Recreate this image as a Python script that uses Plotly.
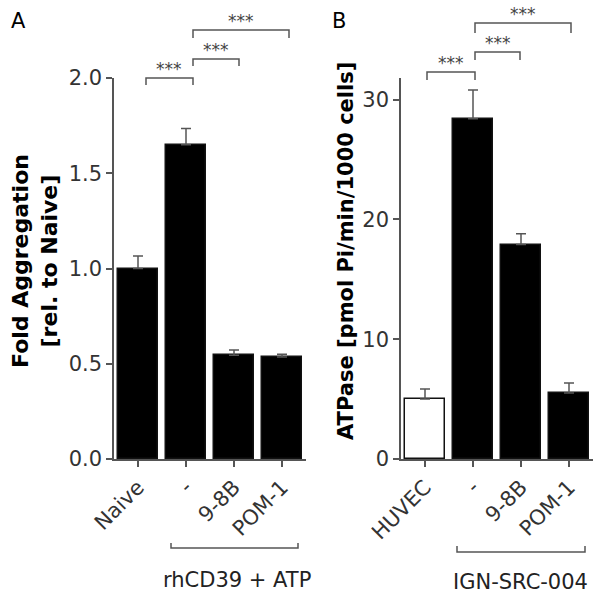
import plotly.graph_objects as go

W, H = 600, 595

# ---- data ----
a_cats = ["Naive", "-", "9-8B", "POM-1"]
a_vals = [1.0, 1.65, 0.545, 0.535]
a_errs = [0.065, 0.085, 0.027, 0.015]
a_colors = ["black", "black", "black", "black"]
a_ticks = [0.0, 0.5, 1.0, 1.5, 2.0]

b_cats = ["HUVEC", "-", "9-8B", "POM-1"]
b_vals = [5.0, 28.4, 17.9, 5.5]
b_errs = [0.85, 2.4, 0.9, 0.85]
b_colors = ["white", "black", "black", "black"]
b_ticks = [0, 10, 20, 30]

a_title = "<b>Fold Aggregation<br>[rel. to Naive]</b>"
b_title = "<b>ATPase [pmol Pi/min/1000 cells]</b>"
sig_label = "***"
group_a = "rhCD39 + ATP"
group_b = "IGN-SRC-004"

FONT = "DejaVu Sans"
GRAY = "#555555"


def px(x):
    return x / W


def py(y):
    return 1 - y / H


fig = go.Figure()

fig.add_trace(go.Bar(
    x=list(range(len(a_cats))), y=a_vals, xaxis="x", yaxis="y",
    marker=dict(color=a_colors, line=dict(color="#111111", width=1.5)),
    width=0.83,
    error_y=dict(type="data", array=a_errs, arrayminus=[0] * len(a_errs),
                 symmetric=False, color=GRAY, thickness=1.5, width=5),
    showlegend=False, hoverinfo="skip",
))
fig.add_trace(go.Bar(
    x=list(range(len(b_cats))), y=b_vals, xaxis="x2", yaxis="y2",
    marker=dict(color=b_colors, line=dict(color="#111111", width=1.5)),
    width=0.83,
    error_y=dict(type="data", array=b_errs, arrayminus=[0] * len(b_errs),
                 symmetric=False, color=GRAY, thickness=1.5, width=5),
    showlegend=False, hoverinfo="skip",
))

ydom = [py(459), py(78)]
common_x = dict(range=[-0.5, 3.5], showline=True, linecolor=GRAY, linewidth=1.5,
                ticks="outside", ticklen=6, tickcolor=GRAY, tickwidth=1.5,
                tickangle=-45, tickfont=dict(family=FONT, size=21, color="#333333"),
                showgrid=False, zeroline=False, automargin=False, tickmode="array")
common_y = dict(showline=True, linecolor=GRAY, linewidth=1.5,
                ticks="outside", ticklen=6, tickcolor=GRAY, tickwidth=1.5,
                tickfont=dict(family=FONT, size=21, color="#333333"),
                showgrid=False, zeroline=False, automargin=False, domain=ydom)

fig.update_layout(
    width=W, height=H, autosize=False,
    margin=dict(l=0, r=0, t=0, b=0),
    plot_bgcolor="white", paper_bgcolor="white",
    bargap=0,
    xaxis=dict(domain=[px(114), px(306)], tickvals=list(range(len(a_cats))),
               ticktext=a_cats, anchor="y", **common_x),
    yaxis=dict(range=[0, 2.0], tickvals=a_ticks, tickformat=".1f", anchor="x",
               **common_y),
    xaxis2=dict(domain=[px(401), px(593)], tickvals=list(range(len(b_cats))),
                ticktext=b_cats, anchor="y2", **common_x),
    yaxis2=dict(range=[0, 31.8], tickvals=b_ticks, anchor="x2",
                **common_y),
)

shapes = []
annots = []

# y-axis titles
annots.append(dict(x=px(35), y=py(261), xref="paper", yref="paper", text=a_title,
                   textangle=-90, showarrow=False, xanchor="center", yanchor="middle",
                   font=dict(family=FONT, size=22, color="black")))
annots.append(dict(x=px(346), y=py(251), xref="paper", yref="paper", text=b_title,
                   textangle=-90, showarrow=False, xanchor="center", yanchor="middle",
                   font=dict(family=FONT, size=21, color="black")))

# significance brackets (pixel positions)
brackets = [
    (146, 193, 78, 85), (193, 239, 59, 66), (193, 289, 30, 38),
    (427, 475, 72, 80), (475, 520, 52, 60), (475, 571, 23, 33),
]
for x0, x1, yt, yl in brackets:
    shapes.append(dict(type="path", xref="paper", yref="paper",
                       path=f"M {px(x0)},{py(yl)} L {px(x0)},{py(yt)} L {px(x1)},{py(yt)} L {px(x1)},{py(yl)}",
                       line=dict(color=GRAY, width=1.5)))
    annots.append(dict(x=px((x0 + x1) / 2), y=py(yt - 9), xref="paper", yref="paper",
                       text=sig_label, showarrow=False, xanchor="center", yanchor="middle",
                       font=dict(family=FONT, size=17, color="#444444")))

# group brackets below x axes
groups = [(171, 298, 548, 543, 237, 580, group_a), (457, 585, 552, 546, 520, 582, group_b)]
for x0, x1, yb, yl, tx, ty, txt in groups:
    shapes.append(dict(type="path", xref="paper", yref="paper",
                       path=f"M {px(x0)},{py(yl)} L {px(x0)},{py(yb)} L {px(x1)},{py(yb)} L {px(x1)},{py(yl)}",
                       line=dict(color=GRAY, width=1.5)))
    annots.append(dict(x=px(tx), y=py(ty), xref="paper", yref="paper", text=txt,
                       showarrow=False, xanchor="center", yanchor="middle",
                       font=dict(family=FONT, size=21, color="#222222")))

# panel letters
for letter, x in (("A", 18), ("B", 339)):
    annots.append(dict(x=px(x), y=py(21), xref="paper", yref="paper", text=letter,
                       showarrow=False, xanchor="center", yanchor="middle",
                       font=dict(family=FONT, size=21, color="black")))

fig.update_layout(shapes=shapes, annotations=annots)
fig.write_html("out.html", config={"displayModeBar": False},
               post_script="document.body.style.margin='0';")
